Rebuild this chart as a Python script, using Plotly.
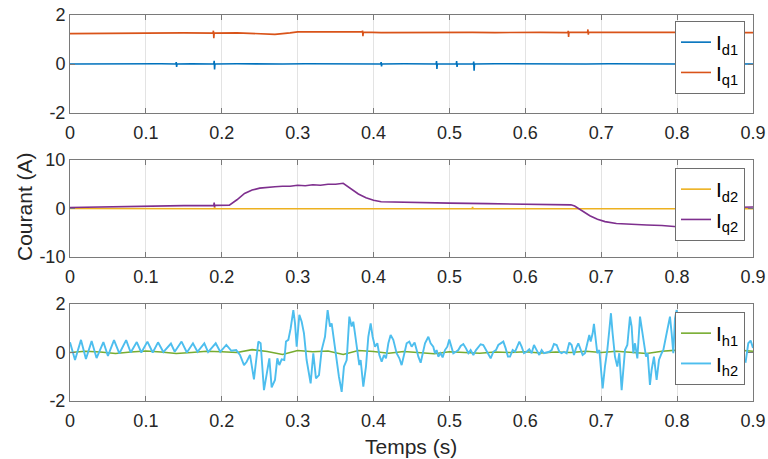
import plotly.graph_objects as go

# ---------------- data ----------------
x_ticks = [0, 0.1, 0.2, 0.3, 0.4, 0.5, 0.6, 0.7, 0.8, 0.9]
x_tick_labels = ["0", "0.1", "0.2", "0.3", "0.4", "0.5", "0.6", "0.7", "0.8", "0.9"]
y1_ticks = [-2, 0, 2]
y1_labels = ["-2", "0", "2"]
y2_ticks = [-10, 0, 10]
y2_labels = ["-10", "0", "10"]
y3_ticks = [-2, 0, 2]
y3_labels = ["-2", "0", "2"]

# Panel 1
t_d1 = [0, 0.03, 0.06, 0.09, 0.12, 0.1395, 0.140, 0.1405, 0.141, 0.16, 0.1895, 0.190, 0.1905, 0.191,
        0.22, 0.25, 0.28, 0.31, 0.34, 0.37, 0.40, 0.4095, 0.410, 0.4105, 0.411, 0.44, 0.47,
        0.4825, 0.483, 0.4835, 0.484, 0.509, 0.5095, 0.510, 0.5105, 0.5315, 0.532, 0.5325, 0.533,
        0.56, 0.59, 0.62, 0.65, 0.68, 0.71, 0.74, 0.77, 0.80, 0.83, 0.86, 0.90]
i_d1 = [0.0, 0.01, -0.01, 0.0, 0.01, 0.0, 0.08, -0.12, 0.0, 0.01, 0.0, 0.13, -0.22, 0.0,
        0.01, -0.01, 0.0, 0.01, 0.0, -0.01, 0.01, 0.0, 0.08, -0.1, 0.0, 0.01, 0.0,
        0.0, 0.12, -0.2, 0.0, 0.0, 0.12, -0.12, 0.0, 0.0, 0.1, -0.27, 0.0,
        0.01, 0.0, 0.01, -0.01, 0.0, 0.01, 0.0, -0.01, 0.0, 0.01, 0.0, 0.0]

t_q1 = [0, 0.03, 0.06, 0.09, 0.12, 0.15, 0.1885, 0.189, 0.1895, 0.190, 0.22, 0.25, 0.27, 0.29, 0.30,
        0.33, 0.36, 0.385, 0.3855, 0.386, 0.3865, 0.41, 0.44, 0.47, 0.50, 0.53, 0.56, 0.59, 0.62,
        0.656, 0.6565, 0.657, 0.6575, 0.682, 0.6825, 0.683, 0.6835, 0.71, 0.74, 0.77, 0.80, 0.83, 0.86, 0.90]
i_q1 = [1.24, 1.25, 1.24, 1.26, 1.27, 1.27, 1.26, 1.36, 1.05, 1.26, 1.27, 1.25, 1.21, 1.27, 1.31,
        1.31, 1.32, 1.32, 1.36, 1.14, 1.3, 1.28, 1.29, 1.3, 1.3, 1.29, 1.28, 1.29, 1.29,
        1.28, 1.35, 1.1, 1.29, 1.3, 1.41, 1.2, 1.3, 1.29, 1.3, 1.29, 1.29, 1.28, 1.29, 1.28]

# Panel 2
t_d2 = [0, 0.1, 0.19, 0.1905, 0.191, 0.3, 0.4, 0.5, 0.53, 0.5305, 0.531, 0.6, 0.7, 0.8, 0.9]
i_d2 = [0.0, -0.05, -0.05, 0.3, -0.05, -0.05, -0.05, -0.05, -0.05, 0.3, -0.05, -0.05, -0.05, -0.05, -0.05]

t_q2 = [0, 0.05, 0.1, 0.15, 0.1895, 0.19, 0.1905, 0.191, 0.21, 0.22, 0.23, 0.24, 0.25, 0.26, 0.27,
        0.28, 0.29, 0.30, 0.31, 0.32, 0.33, 0.34, 0.35, 0.36, 0.37, 0.38, 0.39, 0.40, 0.41, 0.43,
        0.5, 0.55, 0.6, 0.66, 0.665, 0.675, 0.685, 0.695, 0.705, 0.72, 0.74, 0.76, 0.78, 0.80,
        0.82, 0.85, 0.87, 0.9]
i_q2 = [0.2, 0.35, 0.55, 0.6, 0.65, 1.2, 0.3, 0.65, 0.7, 1.8, 3.1, 3.8, 4.2, 4.4, 4.5,
        4.6, 4.6, 4.8, 4.7, 4.9, 4.8, 5.0, 5.0, 5.2, 4.1, 3.0, 2.2, 1.7, 1.4, 1.3,
        1.1, 1.0, 0.9, 0.75, 0.5, -0.5, -1.5, -2.2, -2.7, -3.1, -3.3, -3.4, -3.5, -3.75,
        -3.8, -2.0, 0.2, 0.3]

# Panel 3
t_h1 = [0.00, 0.02, 0.04, 0.06, 0.08, 0.10, 0.12, 0.14, 0.16, 0.18, 0.20, 0.22, 0.24, 0.26, 0.28,
        0.30, 0.32, 0.34, 0.36, 0.38, 0.40, 0.42, 0.44, 0.46, 0.48, 0.50, 0.52, 0.54, 0.56, 0.58,
        0.60, 0.62, 0.64, 0.66, 0.68, 0.70, 0.72, 0.74, 0.76, 0.78, 0.80, 0.82, 0.84, 0.86, 0.88, 0.90]
i_h1 = [0.0, 0.05, 0.02, -0.04, 0.02, 0.06, 0.02, -0.04, 0.0, 0.05, 0.03, 0.0, 0.12, 0.04, -0.08,
        0.08, 0.03, 0.06, -0.08, 0.08, 0.04, -0.03, 0.04, 0.0, -0.05, 0.03, 0.0, -0.03, 0.02, 0.0,
        0.03, -0.02, 0.02, 0.0, 0.05, 0.0, 0.05, 0.02, -0.04, 0.05, 0.1, 0.05, 0.0, 0.05, 0.1, 0.05]

t_h2 = [0.000, 0.0066, 0.0145, 0.021, 0.0285, 0.035, 0.044, 0.050, 0.058, 0.065, 0.074, 0.080,
        0.088, 0.094, 0.102, 0.109, 0.116, 0.123, 0.133, 0.138, 0.147, 0.154, 0.162, 0.168,
        0.177, 0.182, 0.192, 0.198, 0.206, 0.2126, 0.219,
        0.224, 0.2293, 0.2328, 0.2372, 0.2424, 0.2482, 0.2512, 0.2556, 0.2591, 0.2627, 0.2657,
        0.2701, 0.2732, 0.2758, 0.2789, 0.2824, 0.2846, 0.2877, 0.2908, 0.2943, 0.2965, 0.2987,
        0.3022, 0.3053, 0.3083, 0.3118, 0.3171, 0.3206, 0.3241, 0.3281, 0.3316, 0.3360, 0.3395,
        0.3426, 0.3448, 0.3483, 0.3514, 0.3544, 0.3580, 0.3610, 0.3646, 0.3681, 0.3711, 0.3733,
        0.3755, 0.3786, 0.3812, 0.3830, 0.3865, 0.3900, 0.3931, 0.3962, 0.3988, 0.4019, 0.4050,
        0.4076, 0.4107, 0.4137, 0.4164, 0.4195, 0.4225, 0.4260, 0.4282, 0.4304, 0.4340, 0.4370,
        0.4401, 0.4436, 0.4471, 0.4502, 0.4533,
        0.4541, 0.4568, 0.459, 0.4621, 0.4647, 0.4678, 0.4722, 0.4752, 0.4787, 0.4809, 0.4831,
        0.4853, 0.4884, 0.491, 0.4941, 0.4972, 0.4998, 0.5024, 0.5051, 0.5086, 0.5117, 0.5148,
        0.5183, 0.5218, 0.5249, 0.5279, 0.5315, 0.535, 0.538, 0.5411, 0.5446, 0.5481, 0.5512,
        0.5543, 0.5578, 0.5613, 0.5644, 0.5675, 0.571, 0.5741, 0.5771, 0.5798, 0.5833, 0.5864,
        0.5894, 0.5921, 0.5951, 0.5982, 0.6017, 0.6052, 0.6083, 0.6114, 0.6149, 0.6184, 0.6215,
        0.6246, 0.6281, 0.6316, 0.6347, 0.6377, 0.6413, 0.6448, 0.6478, 0.6509, 0.6544, 0.658,
        0.661, 0.6641, 0.6667, 0.6698,
        0.6755, 0.6786, 0.6817, 0.6843, 0.6861, 0.6887, 0.6904, 0.6931, 0.6948, 0.6975, 0.6992,
        0.7019, 0.7049, 0.708, 0.7107, 0.7128, 0.7150, 0.7181, 0.7212, 0.7238, 0.7269, 0.7291,
        0.7313, 0.7344, 0.7379, 0.7401, 0.7423, 0.7445, 0.7476, 0.7511, 0.7533, 0.7555, 0.759,
        0.7612, 0.7642, 0.7664, 0.7695, 0.773, 0.7761, 0.7796, 0.7818, 0.7853, 0.7884, 0.7906,
        0.7928, 0.795, 0.7972, 0.7994, 0.8024, 0.8051,
        0.812, 0.82, 0.83, 0.84, 0.85, 0.86, 0.87, 0.88, 0.8903, 0.8938, 0.8969, 0.9]
i_h2 = [0.42, -0.31, 0.52, -0.27, 0.47, -0.23, 0.43, -0.14, 0.51, -0.04, 0.51, 0.0,
        0.43, 0.0, 0.45, 0.0, 0.42, 0.02, 0.37, 0.03, 0.45, 0.0, 0.38, 0.03,
        0.38, 0.02, 0.38, 0.03, 0.31, 0.07, 0.10,
        -0.10, -0.52, -0.38, -0.10, -1.11, 0.45, 0.38, -1.55, -0.86, -0.24, -1.44,
        -1.13, -0.24, -0.52, -0.28, -0.31, 0.45, 0.52, 1.00, 1.75, 1.20, 0.24,
        1.55, 1.27, 0.79, -0.31, -1.27, -0.03, -1.07, -0.93, 0.10, 0.65, 1.75,
        1.07, 1.20, 0.38, -0.45, -1.00, -1.62, -0.58, -0.31, 1.48, 1.07, 1.27,
        0.79, -0.03, -0.52, -0.31, -1.41, -0.58, 0.65, 1.20, 0.65, 0.24, 0.38,
        -0.10, -0.38, -0.10, -0.24, 0.38, 0.72, 0.52, 0.17, -0.03, -0.24, -0.52,
        -0.10, 0.38, 0.45, 0.24, 0.38,
        0.41, 0.10, -0.17, -0.42, -0.10, 0.38, 0.65, 0.38, 0.24, -0.03, 0.10,
        -0.17, -0.03, -0.20, 0.10, 0.24, 0.54, 0.24, -0.03, 0.03, 0.10, 0.27,
        0.35, 0.17, -0.03, 0.10, -0.10, 0.10, 0.24, 0.34, 0.31, 0.10, -0.10,
        -0.24, 0.03, 0.10, 0.31, 0.38, 0.45, 0.17, -0.17, -0.17, 0.10, 0.03,
        0.24, 0.45, 0.24, -0.03, 0.03, 0.13, -0.03, 0.31, 0.10, -0.10, 0.10,
        -0.03, 0.0, 0.03, 0.10, 0.35, 0.31, 0.03, -0.03, 0.03, -0.03, 0.41,
        0.31, -0.10, 0.17, 0.38,
        -0.10, -0.03, 0.38, 0.72, 0.45, 0.79, 1.18, 0.52, -0.03, 0.10, -0.58,
        -1.48, -0.58, 0.10, 0.93, 1.62, 0.79, -0.17, -0.58, -0.03, -1.55, -0.86,
        0.10, 0.31, 1.48, 1.07, -0.03, 0.38, -0.24, 1.48, 1.07, 0.65, -0.17,
        -0.03, -1.34, -0.72, -0.17, -1.13, -0.31, -0.03, 0.10, 0.65, 1.07, 1.48,
        0.79, -0.03, 1.41, 1.75, 1.20, 0.79,
        0.2, -0.9, 0.8, -0.6, 0.5, -1.0, 0.6, -0.3, -0.38, 0.38, 0.49, 0.19]

# ---------------- figure ----------------
C = dict(d1="#0072BD", q1="#D95319", d2="#EDB120", q2="#7E2F8E", h1="#77AC30", h2="#4DBEEE")
FONT = "Liberation Sans, Arial, sans-serif"

fig = go.Figure()
fig.add_trace(go.Scatter(x=t_d1, y=i_d1, mode="lines", line=dict(color=C["d1"], width=1.6),
                         name="I<sub>d1</sub>", xaxis="x", yaxis="y", legend="legend"))
fig.add_trace(go.Scatter(x=t_q1, y=i_q1, mode="lines", line=dict(color=C["q1"], width=1.6),
                         name="I<sub>q1</sub>", xaxis="x", yaxis="y", legend="legend"))
fig.add_trace(go.Scatter(x=t_d2, y=i_d2, mode="lines", line=dict(color=C["d2"], width=1.6),
                         name="I<sub>d2</sub>", xaxis="x2", yaxis="y2", legend="legend2"))
fig.add_trace(go.Scatter(x=t_q2, y=i_q2, mode="lines", line=dict(color=C["q2"], width=1.6),
                         name="I<sub>q2</sub>", xaxis="x2", yaxis="y2", legend="legend2"))
fig.add_trace(go.Scatter(x=t_h1, y=i_h1, mode="lines", line=dict(color=C["h1"], width=1.6),
                         name="I<sub>h1</sub>", xaxis="x3", yaxis="y3", legend="legend3"))
fig.add_trace(go.Scatter(x=t_h2, y=i_h2, mode="lines", line=dict(color=C["h2"], width=1.9),
                         name="I<sub>h2</sub>", xaxis="x3", yaxis="y3", legend="legend3"))

axis_line = "#7a7a7a"
common_x = dict(range=[0, 0.9], tickvals=x_ticks, ticktext=x_tick_labels, showline=True, mirror="ticks",
                linecolor=axis_line, linewidth=1, ticks="inside", ticklen=5, tickcolor=axis_line,
                showgrid=True, gridcolor="#e3e3e3", gridwidth=1, zeroline=False, automargin=False,
                ticklabelstandoff=3,
                tickfont=dict(family=FONT, size=18, color="#262626"))
common_y = dict(showline=True, mirror="ticks", linecolor=axis_line, linewidth=1, ticks="inside",
                ticklen=5, tickcolor=axis_line, showgrid=False, zeroline=False, automargin=False,
                tickfont=dict(family=FONT, size=18, color="#262626"))

H = 386.0
doms = {1: [288 / H, 1.0], 2: [144 / H, 241 / H], 3: [0.0, 97 / H]}

leg_common = dict(xanchor="right", yanchor="top", bgcolor="white", bordercolor="#6e6e6e", borderwidth=1,
                  font=dict(family=FONT, size=21, color="#000000"), itemwidth=30, tracegroupgap=0)

fig.update_layout(
    width=768, height=459,
    margin=dict(l=70, r=15, t=15, b=58),
    paper_bgcolor="white", plot_bgcolor="white",
    xaxis=dict(domain=[0, 1], anchor="y", **common_x),
    yaxis=dict(domain=doms[1], anchor="x", range=[-2, 2], tickvals=y1_ticks, ticktext=y1_labels, **common_y),
    xaxis2=dict(domain=[0, 1], anchor="y2", **common_x),
    yaxis2=dict(domain=doms[2], anchor="x2", range=[-10, 10], tickvals=y2_ticks, ticktext=y2_labels, **common_y),
    xaxis3=dict(domain=[0, 1], anchor="y3", **common_x),
    yaxis3=dict(domain=doms[3], anchor="x3", range=[-2, 2], tickvals=y3_ticks, ticktext=y3_labels, **common_y),
    legend=dict(x=675 / 683, y=(401 - 21) / H, **leg_common),
    legend2=dict(x=675 / 683, y=(401 - 168) / H, **leg_common),
    legend3=dict(x=675 / 683, y=(401 - 312) / H, **leg_common),
    annotations=[
        dict(text="Courant (A)", xref="paper", yref="paper", x=(24 - 70) / 683, y=(401 - 207) / H,
             textangle=-90, showarrow=False, xanchor="center", yanchor="middle",
             font=dict(family=FONT, size=21, color="#262626")),
        dict(text="Temps (s)", xref="paper", yref="paper", x=(411 - 70) / 683, y=(401 - 446) / H,
             showarrow=False, xanchor="center", yanchor="middle",
             font=dict(family=FONT, size=21, color="#262626")),
    ],
    showlegend=True,
)

fig.write_html("out.html", config={"displayModeBar": False},
               post_script="document.body.style.margin='0';document.body.style.overflow='hidden';")
